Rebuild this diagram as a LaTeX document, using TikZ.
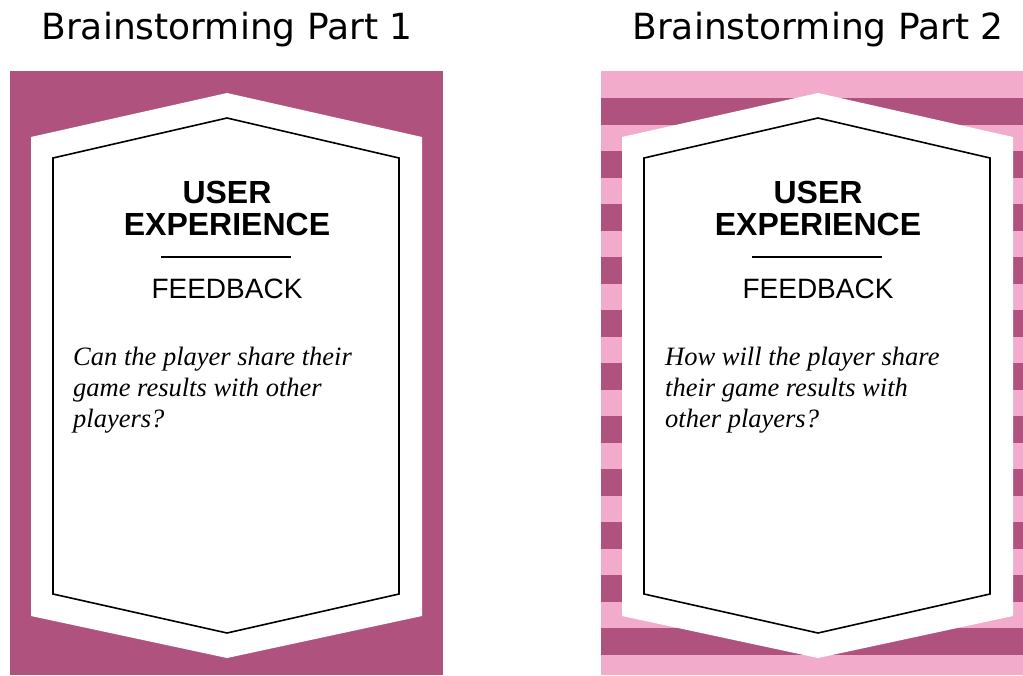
\documentclass[tikz,border=0pt]{standalone}
\usepackage{fontspec}
\setmainfont{Liberation Serif}
\setsansfont{Liberation Sans}
\newfontfamily\titlefont{DejaVu Sans}
\usetikzlibrary{positioning}

\definecolor{cardplum}{HTML}{B0527E}
\definecolor{cardpink}{HTML}{F3ABCB}

\tikzset{
  heading/.style={inner sep=0pt, font=\titlefont\fontsize{36}{43}\selectfont},
  topic/.style={inner sep=0pt, font=\sffamily\bfseries\fontsize{32}{36}\selectfont},
  subtopic/.style={inner sep=0pt, font=\sffamily\fontsize{28}{32}\selectfont},
  question/.style={inner sep=0pt, anchor=base west, font=\itshape\fontsize{26.5}{31}\selectfont},
  outerhex/.style={fill=white, draw=none},
  innerhex/.style={draw=black, line width=1.6pt, line join=miter, fill=white}
}

\begin{document}
\begin{tikzpicture}[x=1pt,y=-1pt]
  \useasboundingbox[fill=white] (0,0) rectangle (1023,675);

  % backgrounds of the two cards
  \fill[cardplum] (10,71) rectangle (443,675);
  \fill[cardpink] (601,71) rectangle (1023,675);
  \foreach \k in {0,...,10}
    \fill[cardplum] (601,98+53*\k) rectangle (1023,124.5+53*\k);

  % card faces
  \foreach \dx in {0,591} {
    \begin{scope}[xshift=\dx]
      \path[outerhex] (227,93) -- (422,137) -- (422,616) -- (227,658)
        -- (31,616) -- (31,137) -- cycle;
      \path[innerhex] (227,118) -- (399,158) -- (399,594) -- (227,633)
        -- (53,594) -- (53,158) -- cycle;
      \draw[line width=2pt] (161,257) -- (291,257);
    \end{scope}
  }

  % left card
  \node[heading, anchor=base] (title1) at (227,39) {Brainstorming Part 1};
  \node[topic, anchor=base] (user1) at (227,203) {USER};
  \node[topic, anchor=base] (exp1) at (227,235) {EXPERIENCE};
  \node[subtopic, anchor=base] (fb1) at (227,298) {FEEDBACK};
  \node[question] (q1a) at (73,365) {Can the player share their};
  \node[question] (q1b) at (73,396) {game results with other};
  \node[question] (q1c) at (73,427) {players?};

  % right card
  \node[heading, anchor=base] (title2) at (818,39) {Brainstorming Part 2};
  \node[topic, anchor=base] (user2) at (818,203) {USER};
  \node[topic, anchor=base] (exp2) at (818,235) {EXPERIENCE};
  \node[subtopic, anchor=base] (fb2) at (818,298) {FEEDBACK};
  \node[question] (q2a) at (665,365) {How will the player share};
  \node[question] (q2b) at (665,396) {their game results with};
  \node[question] (q2c) at (665,427) {other players?};

\end{tikzpicture}
\end{document}
